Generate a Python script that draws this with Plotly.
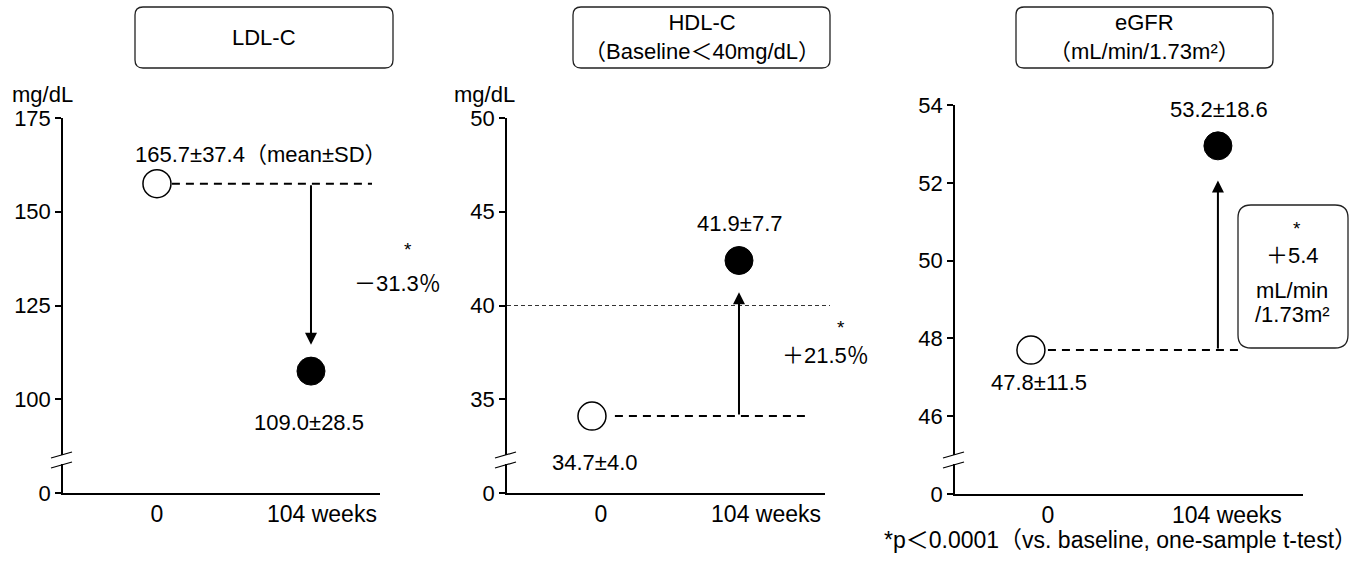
import plotly.graph_objects as go

W, H = 1360, 578
FONT = "Liberation Sans, Arial, Noto Sans CJK JP, sans-serif"
FS = 22

# ---- data ----
panels = ["LDL-C", "HDL-C", "eGFR"]
titles = ["LDL-C", "HDL-C<br>（Baseline＜40mg/dL）", "eGFR<br>（mL/min/1.73m²）"]
timepoints = ["0", "104 weeks"]
# plotted marker positions (as drawn)
baseline_pos = [157.5, 34.1, 47.7]
week104_pos = [107.5, 42.4, 52.95]
# reported values
baseline_txt = ["165.7±37.4（mean±SD）", "34.7±4.0", "47.8±11.5"]
week104_txt = ["109.0±28.5", "41.9±7.7", "53.2±18.6"]
change_txt = ["－31.3％", "＋21.5％", "＋5.4"]
# arrow tip positions (value axis)
arrow_tip = [114.5, 40.7, 52.06]
# axis ticks
ytick_vals = [[75, 100, 125, 150, 175], [30, 35, 40, 45, 50], [44, 46, 48, 50, 52, 54]]
ytick_text = [["0", "100", "125", "150", "175"], ["0", "35", "40", "45", "50"],
              ["0", "46", "48", "50", "52", "54"]]
yranges = [[75, 175], [30, 50], [44, 54]]
ref_line_hdl = 40

# ---- layout geometry (pixels) ----
def px(x):
    return x / W

def py(y):
    return 1 - y / H

x_axis_px = [(63, 380), (507, 825), (955, 1303)]
y_axis_px = [(118, 493), (118, 493), (105, 494)]
xranges = [[-0.610, 1.448], [-0.578, 1.585], [-0.406, 1.455]]
xtick_pos = [[0, 1.071], [0.061, 1.184], [0.091, 1.048]]
dash_span = [[0.097, 1.396], [0.156, 1.449], [0.091, 1.118]]

fig = go.Figure()
layout = dict(template="none", width=W, height=H, autosize=False,
              margin=dict(l=0, r=0, t=0, b=0, pad=0),
              paper_bgcolor="white", plot_bgcolor="white", showlegend=False,
              font=dict(family=FONT, size=FS, color="black"))

shapes = []
annotations = []

for i in range(3):
    sfx = "" if i == 0 else str(i + 1)
    xa, ya = "x" + sfx, "y" + sfx
    fig.add_trace(go.Scatter(x=dash_span[i], y=[baseline_pos[i]] * 2, mode="lines",
                             line=dict(color="black", width=2, dash="8px,6px"),
                             xaxis=xa, yaxis=ya, hoverinfo="skip"))
    fig.add_trace(go.Scatter(x=[0], y=[baseline_pos[i]], mode="markers",
                             marker=dict(size=28, color="white",
                                         line=dict(color="black", width=1.5)),
                             xaxis=xa, yaxis=ya, cliponaxis=False))
    fig.add_trace(go.Scatter(x=[1], y=[week104_pos[i]], mode="markers",
                             marker=dict(size=28, color="black",
                                         line=dict(color="black", width=1)),
                             xaxis=xa, yaxis=ya, cliponaxis=False))
    (xl, xr) = x_axis_px[i]
    (yt, yb) = y_axis_px[i]
    layout["xaxis" + sfx] = dict(domain=[px(xl), px(xr)], range=xranges[i], anchor=ya,
                                 automargin=False,
                                 showline=True, linecolor="black", linewidth=1.5,
                                 showgrid=False, zeroline=False, ticks="",
                                 tickvals=xtick_pos[i], ticktext=timepoints,
                                 tickfont=dict(size=23), fixedrange=True)
    layout["yaxis" + sfx] = dict(domain=[py(yb), py(yt)], range=yranges[i], anchor=xa,
                                 automargin=False,
                                 showline=True, linecolor="black", linewidth=1.5,
                                 showgrid=False, zeroline=False, ticks="outside",
                                 ticklen=6, tickwidth=1.5, tickcolor="black",
                                 tickvals=ytick_vals[i], ticktext=ytick_text[i],
                                 tickfont=dict(size=FS), fixedrange=True)
    annotations.append(dict(x=1, y=arrow_tip[i], ax=1, ay=baseline_pos[i],
                            xref=xa, yref=ya, axref=xa, ayref=ya, text="",
                            showarrow=True, arrowhead=2, arrowsize=1.2,
                            arrowwidth=2, arrowcolor="black", standoff=0))
    xa_px = xl
    shapes.append(dict(type="rect", xref="paper", yref="paper",
                       x0=px(xa_px - 3), x1=px(xa_px + 3), y0=py(464), y1=py(455),
                       fillcolor="white", line=dict(width=0)))
    for yy in (458, 468):
        shapes.append(dict(type="line", xref="paper", yref="paper",
                           x0=px(xa_px - 12), y0=py(yy), x1=px(xa_px + 9), y1=py(yy - 6),
                           line=dict(color="black", width=1.2)))

# value labels anchored to the markers
lab = [
    ("x", "y", 0, baseline_pos[0], baseline_txt[0], "left", -24, 29),
    ("x", "y", 1, week104_pos[0], week104_txt[0], "center", -2, -51),
    ("x2", "y2", 0, baseline_pos[1], baseline_txt[1], "center", 3, -46),
    ("x2", "y2", 1, week104_pos[1], week104_txt[1], "center", 1, 37),
    ("x3", "y3", 0, baseline_pos[2], baseline_txt[2], "center", 8, -32),
    ("x3", "y3", 1, week104_pos[2], week104_txt[2], "center", 1, 36),
]
for (xr_, yr_, xv, yv, t, anc, xs, ys) in lab:
    annotations.append(dict(x=xv, y=yv, xref=xr_, yref=yr_, text=t, showarrow=False,
                            xanchor=anc, yanchor="middle", xshift=xs, yshift=ys))

shapes.append(dict(type="line", xref="paper", yref="y2", x0=px(507), x1=px(830),
                   y0=ref_line_hdl, y1=ref_line_hdl,
                   line=dict(color="#333333", width=1, dash="4px,3px")))

def txt(x, y, t, size=FS, anchor="center"):
    annotations.append(dict(x=px(x), y=py(y), xref="paper", yref="paper", text=t,
                            showarrow=False, xanchor=anchor, yanchor="middle",
                            font=dict(size=size)))

txt(408, 250, "*", 19)
txt(397, 283, change_txt[0])
txt(841, 327, "*", 19)
txt(826, 355, change_txt[1])
txt(1297, 228, "*", 19)
txt(1292, 255, change_txt[2])
txt(1292, 290, "mL/min")
txt(1292, 314, "/1.73m²")

txt(10, 94, "mg/dL", anchor="left")
txt(452, 94, "mg/dL", anchor="left")

txt(1359, 540, "*p＜0.0001（vs. baseline, one-sample t-test）", size=23, anchor="right")

def rrect(x0, y0, x1, y1, r):
    pts = [
        f"M {px(x0 + r)},{py(y0)}", f"L {px(x1 - r)},{py(y0)}",
        f"Q {px(x1)},{py(y0)} {px(x1)},{py(y0 + r)}", f"L {px(x1)},{py(y1 - r)}",
        f"Q {px(x1)},{py(y1)} {px(x1 - r)},{py(y1)}", f"L {px(x0 + r)},{py(y1)}",
        f"Q {px(x0)},{py(y1)} {px(x0)},{py(y1 - r)}", f"L {px(x0)},{py(y0 + r)}",
        f"Q {px(x0)},{py(y0)} {px(x0 + r)},{py(y0)}", "Z",
    ]
    return dict(type="path", xref="paper", yref="paper", path=" ".join(pts),
                line=dict(color="#222222", width=1.3), fillcolor="rgba(0,0,0,0)")

title_boxes = [(135, 7, 393, 68), (573, 7, 830, 68), (1016, 7, 1273, 68)]
for (b, t) in zip(title_boxes, titles):
    shapes.append(rrect(*b, 8))
    annotations.append(dict(x=px((b[0] + b[2]) / 2), y=py((b[1] + b[3]) / 2),
                            xref="paper", yref="paper", text=t, showarrow=False,
                            xanchor="center", yanchor="middle", font=dict(size=FS)))
shapes.append(rrect(1238, 205, 1348, 348, 13))

layout["shapes"] = shapes
layout["annotations"] = annotations
fig.update_layout(**layout)
fig.write_html("out.html", config={"displayModeBar": False},
               post_script="document.body.style.margin='0';document.body.style.overflow='hidden';")
